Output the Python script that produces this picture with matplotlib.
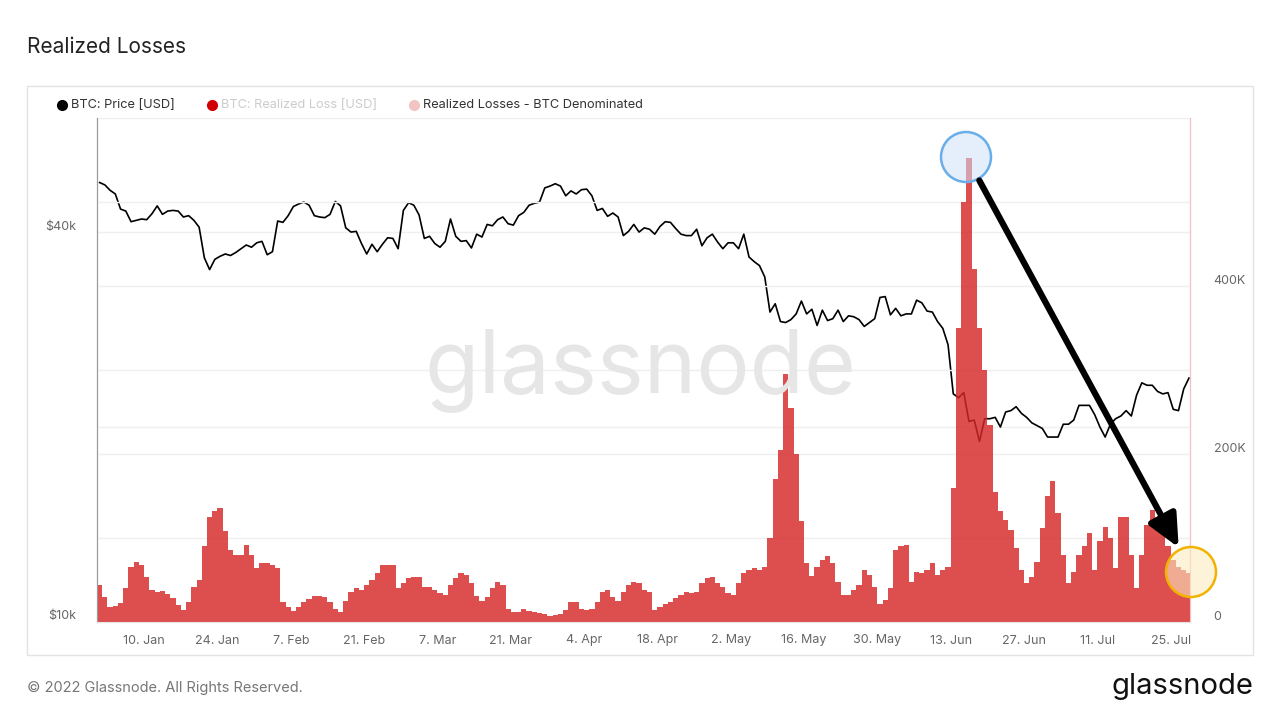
import numpy as np
import pandas as pd
import matplotlib
matplotlib.use("Agg")
import matplotlib.pyplot as plt
import matplotlib.transforms as mtransforms
from matplotlib.patches import Circle, Rectangle, FancyArrowPatch
from matplotlib.lines import Line2D

plt.rcParams["font.family"] = ["Inter", "DejaVu Sans"]

# ── 数据：2022-01-01 起的日度序列 ──
dates = pd.date_range("2022-01-01", "2022-07-28", freq="D")

# BTC 价格 (千美元)
price_jan = [47.7, 47.3, 46.4, 45.8, 43.4, 43.1, 41.5, 41.7, 41.9, 41.8, 42.7, 43.9, 42.6, 43.1, 43.2, 43.1,
             42.2, 42.4, 41.7, 40.7, 36.5, 35.0, 36.3, 36.7, 37.0, 36.8, 37.2, 37.7, 38.2, 37.9, 38.5]
price_feb = [38.7, 36.9, 37.3, 41.6, 41.4, 42.4, 43.8, 44.2, 44.5, 44.0, 42.4, 42.2, 42.1, 42.6, 44.6, 43.9,
             40.6, 40.0, 40.1, 38.4, 37.0, 38.3, 37.3, 38.3, 39.2, 39.1, 37.7, 43.2]
price_mar = [44.4, 44.0, 42.5, 39.1, 39.4, 38.4, 37.9, 38.7, 41.9, 39.4, 38.7, 38.8, 37.8, 39.7, 39.3, 41.1,
             40.9, 41.8, 42.2, 41.2, 41.0, 42.4, 42.9, 44.0, 44.3, 44.5, 46.8, 47.1, 47.5, 47.1, 45.5]
price_apr = [46.3, 45.8, 46.5, 46.6, 45.5, 43.2, 43.5, 42.3, 42.8, 42.2, 39.5, 40.1, 41.1, 40.0, 40.6, 40.4,
             39.7, 40.8, 41.5, 41.4, 40.5, 39.7, 39.5, 39.5, 40.4, 38.1, 39.2, 39.7, 38.6, 37.7]
price_may = [38.5, 38.5, 37.7, 39.7, 36.6, 36.0, 35.5, 34.1, 30.1, 31.0, 29.1, 29.0, 29.3, 29.9, 31.3, 29.9,
             30.4, 28.7, 30.3, 29.2, 29.4, 30.3, 29.1, 29.7, 29.6, 29.3, 28.6, 29.0, 29.4, 31.7, 31.8]
price_jun = [29.8, 30.5, 29.7, 29.9, 29.9, 31.4, 31.1, 30.2, 30.1, 29.1, 28.4, 26.8, 22.5, 22.2, 22.6, 20.4,
             20.5, 19.0, 20.6, 20.6, 20.7, 20.0, 21.1, 21.2, 21.5, 21.0, 20.7, 20.3, 20.1, 19.9]
price_jul = [19.3, 19.3, 19.3, 20.2, 20.2, 20.5, 21.6, 21.6, 21.6, 20.9, 20.0, 19.3, 20.2, 20.6, 20.8, 21.2,
             20.8, 22.4, 23.4, 23.2, 23.2, 22.7, 22.5, 22.6, 21.3, 21.2, 22.9, 23.8]

# 已实现亏损 (BTC 计价, 千 BTC)
loss_jan = [44, 30, 18, 19, 23, 40, 65, 72, 68, 54, 38, 36, 37, 33, 28, 20, 14, 24, 42, 50, 90, 125, 132, 136,
            108, 86, 80, 80, 92, 80, 64]
loss_feb = [70, 70, 68, 64, 24, 18, 13, 18, 24, 27, 31, 31, 30, 24, 16, 12, 25, 36, 40, 38, 44, 50, 58, 68,
            68, 68, 40, 46]
loss_mar = [52, 54, 54, 42, 42, 38, 34, 32, 44, 52, 58, 56, 46, 31, 25, 30, 40, 48, 44, 16, 12, 12, 15, 13,
            12, 11, 10, 7, 8, 10, 14]
loss_apr = [24, 24, 16, 14, 16, 24, 36, 38, 30, 25, 36, 44, 48, 46, 38, 36, 14, 18, 22, 24, 28, 32, 36, 35,
            36, 46, 52, 54, 46, 42]
loss_may = [34, 32, 46, 58, 62, 64, 62, 65, 100, 170, 205, 295, 255, 200, 120, 70, 55, 66, 74, 78, 70, 48, 32,
            32, 38, 44, 62, 56, 42, 22, 26]
loss_jun = [40, 86, 90, 92, 48, 60, 58, 62, 70, 56, 62, 66, 160, 350, 500, 552, 420, 350, 300, 235, 155, 132,
            122, 110, 88, 62, 46, 54, 72, 112]
loss_jul = [150, 168, 130, 80, 46, 60, 80, 90, 106, 62, 96, 113, 100, 64, 125, 125, 80, 40, 80, 115, 133, 115,
            108, 90, 74, 66, 62, 58]

price = np.array(price_jan + price_feb + price_mar + price_apr + price_may + price_jun + price_jul) * 1000
loss = np.array(loss_jan + loss_feb + loss_mar + loss_apr + loss_may + loss_jun + loss_jul) * 1000
day = np.arange(len(dates))

tick_dates = pd.date_range("2022-01-10", "2022-07-25", freq="14D")
tick_pos = [(d - dates[0]).days for d in tick_dates]
tick_labels = [f"{d.day}. {d.strftime('%b')}" for d in tick_dates]

# ── 画布 ──
W, H = 1280, 720
fig = plt.figure(figsize=(12.8, 7.2), dpi=100)
fig.patch.set_facecolor("white")

def px(x, y):
    return x / W, 1 - y / H

# 外框
fig.add_artist(Rectangle(px(27, 655), 1226 / W, 569 / H, transform=fig.transFigure,
                         fill=False, edgecolor="#e3e3e3", lw=1))

ax = fig.add_axes([97 / W, 1 - 622 / H, (1190 - 97) / W, (622 - 118) / H])
ax2 = ax.twinx()

# 价格 (左轴, 对数)
ax.plot(day + 0.5, price, color="black", lw=1.2, zorder=3)
ax.set_yscale("log")
ax.set_ylim(10000, 60000)
ax.set_yticks([10000, 20000, 40000])
ax.set_yticklabels(["$10k", "", "$40k"])
ax.yaxis.set_minor_locator(matplotlib.ticker.NullLocator())
ax.grid(axis="y", color="#efefef", lw=1)
ax.set_axisbelow(True)

# 亏损 (右轴)
ax2.bar(day, loss, width=1.0, align="edge", color="#d62828", alpha=0.82, lw=0, zorder=2)
ax2.set_ylim(0, 600000)
ax2.set_yticks(np.arange(0, 600001, 100000))
ax2.set_yticklabels(["0", "", "200K", "", "400K", "", ""])
ax2.grid(axis="y", color="#efefef", lw=1)

ax.set_xlim(0, 208.7)
ax.set_xticks(tick_pos)
ax.set_xticklabels(tick_labels)

for a in (ax, ax2):
    a.spines["top"].set_visible(False)
    a.spines["left"].set_color("#9a9a9a")
    a.spines["right"].set_color("#f3bfc4")
    a.spines["bottom"].set_color("#e6e6e6")
    a.tick_params(length=0, labelsize=9, labelcolor="#666666")
ax.tick_params(axis="y", pad=15)
ax2.tick_params(axis="y", pad=17)
ax.tick_params(axis="x", pad=9)

offset = mtransforms.ScaledTranslation(0, 0.07, fig.dpi_scale_trans)
for lab in ax.get_yticklabels() + ax2.get_yticklabels():
    lab.set_transform(lab.get_transform() + offset)

# 水印
fig.text(640 / W, 1 - 370 / H, "glassnode", fontsize=64, color="#e6e6e6",
         ha="center", va="center", zorder=0)

# 标题 & 图例
fig.text(27 / W, 1 - 47 / H, "Realized Losses", fontsize=15, color="#222222", va="center")
legend = [(62, "black", "BTC: Price [USD]", "#333333"),
          (212, "#d10000", "BTC: Realized Loss [USD]", "#cccccc"),
          (414, "#f2c4c4", "Realized Losses - BTC Denominated", "#333333")]
for x0, mc, label, tc in legend:
    fig.add_artist(Line2D([x0 / W], [1 - 105 / H], marker="o", ms=7, color=mc, lw=0,
                          transform=fig.transFigure))
    fig.text((x0 + 9) / W, 1 - 105 / H, label, fontsize=9.2, color=tc, va="center")

# 标注：圆圈 + 箭头 (像素坐标)
inch = fig.dpi_scale_trans
def pin(x, y):
    return x / 100, (H - y) / 100

fig.add_artist(Circle(pin(966, 157), 0.25, transform=inch, facecolor="#cfe3f8", alpha=0.55,
                      edgecolor="none", zorder=5))
fig.add_artist(Circle(pin(966, 157), 0.25, transform=inch, fill=False, edgecolor="#69aee8",
                      lw=1.8, zorder=6))
fig.add_artist(Circle(pin(1191, 572), 0.25, transform=inch, facecolor="#fdebc0", alpha=0.6,
                      edgecolor="none", zorder=5))
fig.add_artist(Circle(pin(1191, 572), 0.25, transform=inch, fill=False, edgecolor="#f2b300",
                      lw=1.8, zorder=6))
fig.add_artist(FancyArrowPatch(pin(978, 178), pin(1180, 550), transform=inch,
                               arrowstyle="-|>,head_length=1.5,head_width=0.7",
                               mutation_scale=13, color="black", lw=4.5, zorder=7))

# 页脚
fig.text(27 / W, 1 - 688 / H, "© 2022 Glassnode. All Rights Reserved.", fontsize=10.5,
         color="#777777", va="center")
fig.text(1253 / W, 1 - 686 / H, "glassnode", fontsize=21, color="#111111",
         ha="right", va="center")

fig.savefig("out.png", dpi=100)
